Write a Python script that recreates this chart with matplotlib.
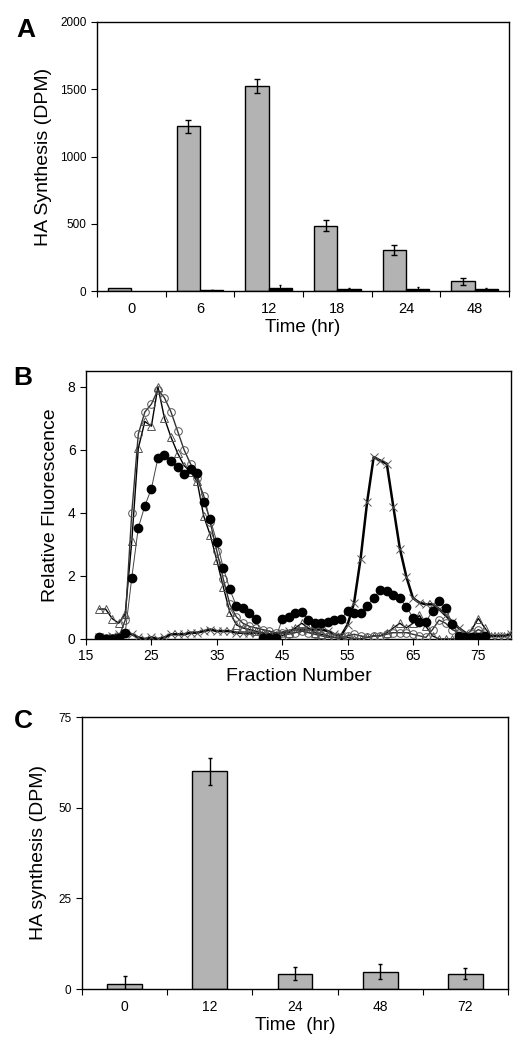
#!/usr/bin/env python3
"""
plot.py

Three stacked panels: HA synthesis bars (A), fraction profile (B),
and a second HA synthesis time course (C).
"""

import matplotlib
matplotlib.use('Agg')
import matplotlib.pyplot as plt
import numpy as np

plt.rcParams['font.family'] = ['Liberation Sans', 'DejaVu Sans']

# Panel A data.
a_times = ['0', '6', '12', '18', '24', '48']
a_gray = [20, 1225, 1525, 485, 305, 72]
a_gray_err = [0, 50, 50, 40, 38, 25]
a_black = [0, 5, 22, 18, 18, 18]
a_black_err = [0, 0, 20, 5, 10, 5]

# Panel B data (fraction number vs relative fluorescence).
b_frac = list(range(17, 81))
b_open_circle = [0.02, 0.02, 0.02, 0.05, 0.6, 4.0, 6.5, 7.2, 7.45, 7.9,
                 7.65, 7.2, 6.6, 6.0, 5.55, 5.1, 4.55, 3.7, 2.8, 1.9,
                 1.1, 0.7, 0.5, 0.4, 0.35, 0.3, 0.25, 0.2, 0.2, 0.15,
                 0.2, 0.25, 0.2, 0.15, 0.1, 0.05, 0.05, 0.05, 0.1, 0.15,
                 0.1, 0.05, 0.1, 0.1, 0.15, 0.2, 0.2, 0.2, 0.15, 0.1,
                 0.05, 0.3, 0.6, 0.5, 0.3, 0.2, 0.1, 0.15, 0.3, 0.2]
b_triangle = [0.95, 0.95, 0.65, 0.5, 0.8, 3.1, 6.05, 6.9, 6.75, 8.0,
              7.0, 6.4, 5.9, 5.5, 5.3, 5.0, 3.9, 3.3, 2.5, 1.65,
              0.85, 0.45, 0.35, 0.3, 0.25, 0.2, 0.15, 0.12, 0.1, 0.2,
              0.35, 0.5, 0.35, 0.2, 0.15, 0.1, 0.05, 0.0, 0.05, 0.0,
              0.0, 0.05, 0.1, 0.1, 0.2, 0.35, 0.5, 0.35, 0.5, 0.75,
              0.4, 0.1, 0.0, 0.0, 0.0, 0.0, 0.05, 0.3, 0.65, 0.35,
              0.1, 0.1, 0.1, 0.15]
b_filled = [0.07, 0.0, 0.0, 0.02, 0.2, 1.94, 3.53, 4.22, 4.77, 5.74,
            5.82, 5.64, 5.45, 5.24, 5.4, 5.27, 4.35, 3.8, 3.08, 2.26,
            1.57, 1.05, 0.97, 0.81, 0.65, 0.02, 0.02, 0.02, 0.62, 0.69,
            0.83, 0.86, 0.6, 0.52, 0.5, 0.53, 0.6, 0.62, 0.9, 0.83,
            0.83, 1.05, 1.31, 1.55, 1.53, 1.39, 1.29, 1.02, 0.68, 0.55,
            0.55, 0.89, 1.2, 0.99, 0.49, 0.09, 0.05, 0.05, 0.05, 0.08]
b_cross = [0.05, 0.05, 0.1, 0.15, 0.2, 0.15, 0.05, 0.0, 0.05, 0.0,
           0.05, 0.15, 0.15, 0.15, 0.2, 0.2, 0.25, 0.3, 0.25, 0.25,
           0.25, 0.2, 0.2, 0.2, 0.2, 0.15, 0.15, 0.15, 0.2, 0.25,
           0.3, 0.3, 0.3, 0.3, 0.3, 0.25, 0.15, 0.1, 0.45, 1.15,
           2.55, 4.35, 5.77, 5.66, 5.56, 4.2, 2.87, 1.97, 1.3, 1.15,
           1.1, 1.1, 0.95, 0.75, 0.55, 0.35, 0.2, 0.1, 0.15, 0.1,
           0.1, 0.1, 0.1, 0.15]

# Panel C data.
c_times = ['0', '12', '24', '48', '72']
c_vals = [1.5, 60, 4.2, 4.8, 4.2]
c_err = [2.2, 3.7, 1.8, 2.0, 1.5]

GRAY = '#b3b3b3'
W, H = 521, 1050


def style_axes(ax):
    ax.tick_params(direction='out', length=4, width=0.8)
    for sp in ax.spines.values():
        sp.set_linewidth(1.0)


fig = plt.figure(figsize=(W / 100, H / 100), dpi=100)

# ---- Panel A ----
axA = fig.add_axes([97 / W, 1 - 291 / H, 412 / W, 269 / H])
xa = np.arange(len(a_times))
bw = 0.34
axA.bar(xa - bw / 2, a_gray, bw, color=GRAY, edgecolor='black', lw=1.0)
axA.errorbar(xa[1:] - bw / 2, a_gray[1:], yerr=a_gray_err[1:], fmt='none',
             ecolor='black', elinewidth=1.0, capsize=2)
axA.bar(xa[1:] + bw / 2, a_black[1:], bw, color='black', edgecolor='black')
axA.errorbar(xa[1:] + bw / 2, a_black[1:], yerr=a_black_err[1:], fmt='none',
             ecolor='black', elinewidth=0.8, capsize=1)
axA.set_xlim(-0.5, len(a_times) - 0.5)
axA.set_ylim(0, 2000)
axA.set_yticks([0, 500, 1000, 1500, 2000])
axA.set_xticks(np.arange(-0.5, len(a_times)), minor=False)
axA.set_xticklabels([])
axA.set_xticks(xa, minor=True)
axA.set_xticklabels(a_times, minor=True, fontsize=10.5)
axA.tick_params(axis='x', which='minor', length=0, pad=8)
axA.tick_params(axis='y', labelsize=8.5)
axA.set_xlabel('Time (hr)', fontsize=13.5, labelpad=2)
axA.set_ylabel('HA Synthesis (DPM)', fontsize=14, labelpad=6)
style_axes(axA)

# ---- Panel B ----
axB = fig.add_axes([86 / W, 1 - 639 / H, 425 / W, 268 / H])
fr = np.array(b_frac)
axB.plot(fr, b_cross, '-', color='black', lw=1.8, marker='x', ms=5.5,
         mec='#555555', mew=0.7, zorder=3)
axB.plot(fr[:len(b_triangle)], b_triangle, '-', color='black', lw=1.0,
         marker='^', ms=5.5, mfc='none', mec='#555555', mew=0.7, zorder=4)
axB.plot(fr[:len(b_open_circle)], b_open_circle, '-', color='#333333',
         lw=1.0, marker='o', ms=5.5, mfc='none', mec='#555555', mew=0.7,
         zorder=4)
axB.plot(fr[:len(b_filled)], b_filled, '-', color='#444444', lw=0.7,
         marker='o', ms=6, mfc='black', mec='black', zorder=5)
axB.set_xlim(15, 80)
axB.set_ylim(0, 8.5)
axB.set_xticks(range(15, 80, 10))
axB.set_yticks([0, 2, 4, 6, 8])
axB.tick_params(labelsize=10)
axB.set_xlabel('Fraction Number', fontsize=14, labelpad=3)
axB.set_ylabel('Relative Fluorescence', fontsize=14, labelpad=6)
style_axes(axB)

# ---- Panel C ----
axC = fig.add_axes([82 / W, 1 - 989 / H, 426 / W, 272 / H])
xc = np.arange(len(c_times))
axC.bar(xc, c_vals, 0.41, color=GRAY, edgecolor='black', lw=1.0)
axC.errorbar(xc, c_vals, yerr=c_err, fmt='none', ecolor='black',
             elinewidth=1.0, capsize=1.5)
axC.set_xlim(-0.5, len(c_times) - 0.5)
axC.set_ylim(0, 75)
axC.set_yticks([0, 25, 50, 75])
axC.set_xticks(np.arange(-0.5, len(c_times)), minor=False)
axC.set_xticklabels([])
axC.set_xticks(xc, minor=True)
axC.set_xticklabels(c_times, minor=True, fontsize=10)
axC.tick_params(axis='x', which='minor', length=0, pad=8)
axC.tick_params(axis='y', labelsize=8.5)
axC.set_xlabel('Time  (hr)', fontsize=13.5, labelpad=2)
axC.set_ylabel('HA synthesis (DPM)', fontsize=14, labelpad=8)
style_axes(axC)

# Panel letters.
for lab, px, py in [('A', 26, 30), ('B', 23, 378), ('C', 23, 721)]:
    fig.text(px / W, 1 - py / H, lab, fontsize=19, fontweight='bold',
             ha='center', va='center')

fig.savefig('out.png', dpi=100)
